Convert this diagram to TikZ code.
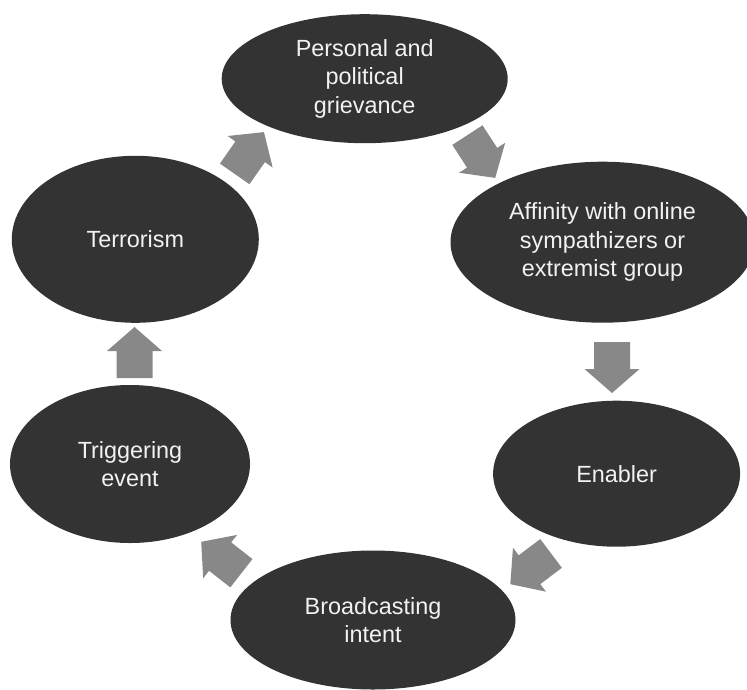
\documentclass[tikz,border=0pt]{standalone}
\usepackage{fontspec}
\setmainfont{Liberation Sans}
\usetikzlibrary{shapes.geometric}

\definecolor{ovalgray}{HTML}{333333}
\definecolor{arrowgray}{HTML}{888888}
\definecolor{textwhite}{HTML}{F2F2F2}

\tikzset{
    cyclearrow/.pic={
        \fill[arrowgray] (-25.5,18) -- (1.5,18) -- (1.5,27.5) -- (25.5,0) -- (1.5,-27.5) -- (1.5,-18) -- (-25.5,-18) -- cycle;
    }
}

\begin{document}
\begin{tikzpicture}[x=1pt,y=-1pt]
        \tikzstyle{stage}=[ellipse,fill=ovalgray,text=textwhite,inner sep=0pt,align=center,font=\fontsize{23.4}{28.5}\selectfont]

        \useasboundingbox (0,0) rectangle (747,689);

        \node (griev)[stage,minimum width=286pt,minimum height=129pt] at (364.7,78.7) {Personal and\\political\\grievance};
        \node (affin)[stage,minimum width=304pt,minimum height=161pt] at (602.5,242.2) {Affinity with online\\sympathizers or\\extremist group};
        \node (enab)[stage,minimum width=247pt,minimum height=146pt] at (616.6,473.7) {Enabler};
        \node (broad)[stage,minimum width=285pt,minimum height=139pt] at (373,620) {Broadcasting\\intent};
        \node (trig)[stage,minimum width=240pt,minimum height=158pt] at (130,464) {Triggering\\event};
        \node (terr)[stage,minimum width=247pt,minimum height=167pt] at (135.3,239.3) {Terrorism};

        % arrow centres between the stages
        \coordinate (ga) at (481.3,156.5);
        \coordinate (ae) at (612,367.5);
        \coordinate (eb) at (530.7,568.8);
        \coordinate (bt) at (221.3,557.5);
        \coordinate (tt) at (134.5,352.5);
        \coordinate (tg) at (249.3,153);

        \pic[rotate=-57] at (ga) {cyclearrow};
        \pic[rotate=-90] at (ae) {cyclearrow};
        \pic[rotate=-143] at (eb) {cyclearrow};
        \pic[rotate=142] at (bt) {cyclearrow};
        \pic[rotate=90] at (tt) {cyclearrow};
        \pic[rotate=55] at (tg) {cyclearrow};
    \end{tikzpicture}
\end{document}
